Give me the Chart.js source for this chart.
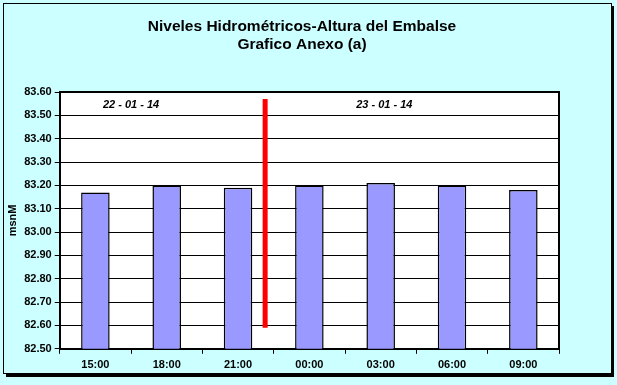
<!DOCTYPE html>
<html>
<head>
<meta charset="utf-8">
<script src="https://cdn.jsdelivr.net/npm/chart.js@4/dist/chart.umd.min.js"></script>
<style>
html,body{margin:0;padding:0;background:#CCFFFF;}
#wrap{width:617px;height:385px;position:relative;}
</style>
</head>
<body>
<div id="wrap"><canvas id="c" width="617" height="385"></canvas></div>
<script>
const categories = ["15:00","18:00","21:00","00:00","03:00","06:00","09:00"];
const levels = [83.17, 83.20, 83.19, 83.20, 83.21, 83.20, 83.18];
const dividerX = [2.38, 2.38];
const dividerY = [82.59, 83.57];
const dateLabels = ["22 - 01 - 14", "23 - 01 - 14"];
const dateLabelPos = [0.5, 4.05];
const yTitle = "msnM";
const titleLines = ["Niveles Hidrométricos-Altura del Embalse", "Grafico Anexo (a)"];

const FONT = "'Liberation Sans', Arial, sans-serif";

const framePlugin = {
  id: 'frame',
  beforeDraw(chart) {
    const ctx = chart.ctx;
    ctx.save();
    ctx.fillStyle = '#CCFFFF';
    ctx.fillRect(0, 0, chart.width, chart.height);
    ctx.strokeStyle = '#000';
    ctx.lineWidth = 1;
    ctx.strokeRect(3.5, 3.5, 608, 370);
    ctx.fillStyle = '#000';
    ctx.fillRect(611, 6, 3, 371);
    ctx.fillRect(6, 374, 608, 3);
    const a = chart.chartArea;
    ctx.fillStyle = '#fff';
    ctx.fillRect(a.left, a.top, a.right - a.left, a.bottom - a.top);
    ctx.fillStyle = '#000';
    ctx.font = "bold 15.5px " + FONT;
    ctx.textAlign = 'center';
    ctx.textBaseline = 'middle';
    ctx.fillText(titleLines[0], 302, 27);
    ctx.fillText(titleLines[1], 302, 45);
    ctx.restore();
  },
  afterDatasetsDraw(chart) {
    const ctx = chart.ctx;
    const a = chart.chartArea;
    ctx.save();
    ctx.strokeStyle = '#000';
    ctx.lineWidth = 2;
    ctx.beginPath();
    ctx.moveTo(a.left, a.top);
    ctx.lineTo(a.right, a.top);
    ctx.lineTo(a.right, a.bottom);
    ctx.stroke();
    const xs = chart.scales.x2, ys = chart.scales.y;
    ctx.fillStyle = '#000';
    ctx.font = "italic bold 11px " + FONT;
    ctx.textAlign = 'center';
    ctx.textBaseline = 'middle';
    dateLabels.forEach((t, i) => {
      ctx.fillText(t, xs.getPixelForValue(dateLabelPos[i]), ys.getPixelForValue(83.545));
    });
    ctx.restore();
  }
};

new Chart(document.getElementById('c'), {
  data: {
    labels: categories,
    datasets: [
      {
        type: 'bar',
        data: levels,
        backgroundColor: '#9999FF',
        borderColor: '#000',
        borderWidth: 1.5,
        grouped: false,
        categoryPercentage: 1,
        barPercentage: 0.4,
        order: 2
      },
      {
        type: 'line',
        xAxisID: 'x2',
        data: dividerX.map((x, i) => ({x: x, y: dividerY[i]})),
        borderColor: '#FF0000',
        borderWidth: 5,
        borderCapStyle: 'butt',
        pointRadius: 0,
        order: 1
      }
    ]
  },
  options: {
    responsive: false,
    animation: false,
    devicePixelRatio: 1,
    layout: { padding: { left: 6, right: 58, top: 92, bottom: 8 } },
    plugins: {
      legend: { display: false },
      tooltip: { enabled: false },
      title: { display: false }
    },
    scales: {
      x: {
        type: 'category',
        offset: true,
        grid: { offset: true, drawOnChartArea: false, color: '#000', tickLength: 5, tickWidth: 1 },
        border: { color: '#000', width: 2 },
        ticks: { color: '#000', font: { family: FONT, size: 11, weight: 'bold' }, padding: 5, maxRotation: 0 }
      },
      x2: {
        type: 'linear',
        display: false,
        min: -0.5,
        max: 6.5
      },
      y: {
        min: 82.5,
        max: 83.6,
        grid: { color: '#000', lineWidth: 1, tickLength: 5 },
        border: { color: '#000', width: 2 },
        ticks: {
          stepSize: 0.1,
          color: '#000',
          font: { family: FONT, size: 11, weight: 'bold' },
          padding: 3,
          callback: v => Number(v).toFixed(2)
        },
        title: {
          display: true,
          text: yTitle,
          color: '#000',
          font: { family: FONT, size: 11, weight: 'bold' },
          padding: { top: 0, bottom: 2 }
        }
      }
    }
  },
  plugins: [framePlugin]
});
</script>
</body>
</html>
